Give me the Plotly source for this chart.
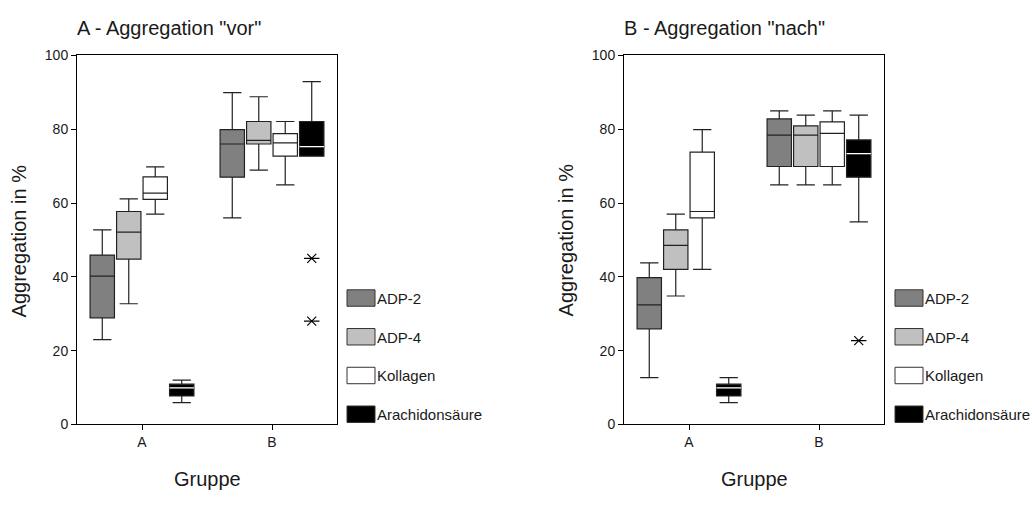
import plotly.graph_objects as go

W, H = 1032, 506

groups = ["A", "B"]
series = ["ADP-2", "ADP-4", "Kollagen", "Arachidonsäure"]
fills = ["#808080", "#c0c0c0", "#ffffff", "#000000"]

# Panel A - "vor": one list per series, values for groups [A, B]
vor_lower = [[23.0, 56.0], [32.7, 68.9], [57.0, 64.9], [5.9, 72.7]]
vor_q1 = [[28.9, 67.0], [44.8, 76.0], [61.0, 72.7], [7.7, 72.7]]
vor_median = [[40.2, 76.0], [52.1, 77.0], [62.7, 76.3], [9.9, 75.3]]
vor_q3 = [[45.9, 79.9], [57.7, 82.1], [67.1, 78.8], [10.9, 82.1]]
vor_upper = [[52.7, 89.9], [61.1, 88.8], [69.8, 82.1], [12.0, 92.9]]
vor_outlier_group = ["B", "B"]
vor_outlier_values = [45.0, 28.0]

# Panel B - "nach"
nach_lower = [[12.7, 64.9], [34.8, 64.9], [42.0, 64.9], [5.9, 54.9]]
nach_q1 = [[25.9, 69.9], [42.0, 69.9], [56.0, 69.9], [7.7, 67.0]]
nach_median = [[32.4, 78.4], [48.5, 78.4], [57.7, 78.9], [9.9, 73.4]]
nach_q3 = [[39.8, 82.8], [52.7, 80.9], [73.8, 82.0], [10.9, 77.1]]
nach_upper = [[43.8, 85.0], [57.0, 83.8], [79.9, 85.0], [12.7, 83.8]]
nach_outlier_group = ["B"]
nach_outlier_values = [22.7]

y_ticks = [0, 20, 40, 60, 80, 100]

FONT = "Liberation Sans, Arial, sans-serif"
TXT = "#1a1a1a"

panels = [
    dict(xa="x", ya="y", lower=vor_lower, q1=vor_q1, med=vor_median, q3=vor_q3,
         upper=vor_upper, og=vor_outlier_group, ov=vor_outlier_values),
    dict(xa="x2", ya="y2", lower=nach_lower, q1=nach_q1, med=nach_median, q3=nach_q3,
         upper=nach_upper, og=nach_outlier_group, ov=nach_outlier_values),
]

fig = go.Figure()
last = len(series) - 1
for p in panels:
    for i, name in enumerate(series):
        fig.add_trace(go.Box(
            name=name, x=groups,
            q1=p["q1"][i], median=p["med"][i], q3=p["q3"][i],
            lowerfence=p["lower"][i], upperfence=p["upper"][i],
            fillcolor=fills[i], line=dict(color="#222222", width=1.2),
            whiskerwidth=0.75, offsetgroup=str(i), alignmentgroup="g",
            boxpoints=False,
            xaxis=p["xa"], yaxis=p["ya"], showlegend=False, hoverinfo="skip"))
    # white median line for the black (Arachidonsäure) boxes
    fig.add_trace(go.Box(
        name=series[last] + " median", x=groups,
        q1=p["med"][last], median=p["med"][last], q3=p["med"][last],
        lowerfence=p["med"][last], upperfence=p["med"][last],
        fillcolor="rgba(0,0,0,0)", line=dict(color="white", width=1.3),
        whiskerwidth=0, offsetgroup=str(last), alignmentgroup="g", boxpoints=False,
        xaxis=p["xa"], yaxis=p["ya"], showlegend=False, hoverinfo="skip"))
    # extreme values of Arachidonsäure, drawn as asterisks (X + horizontal bar)
    for sym, sz in [("x-thin-open", 9), ("line-ew-open", 11)]:
        fig.add_trace(go.Box(
            name=series[last] + " extremes", x=p["og"], y=p["ov"],
            boxpoints="all", jitter=0, pointpos=0,
            fillcolor="rgba(0,0,0,0)", line=dict(color="rgba(0,0,0,0)", width=0),
            whiskerwidth=0, offsetgroup=str(last), alignmentgroup="g",
            marker=dict(symbol=sym, size=sz, color="black",
                        line=dict(width=1.2, color="black")),
            xaxis=p["xa"], yaxis=p["ya"], showlegend=False, hoverinfo="skip"))

def px_x(v):
    return v / W

def px_y(v):
    return 1 - v / H

x_dom1 = [px_x(77), px_x(337)]
x_dom2 = [px_x(624), px_x(884)]
y_dom = [px_y(430), px_y(49)]

axis_common = dict(showline=True, linecolor="black", linewidth=1, mirror=True,
                   ticks="outside", ticklen=5, tickcolor="black", showgrid=False,
                   zeroline=False, tickfont=dict(family=FONT, size=14, color=TXT))

fig.update_layout(
    width=W, height=H, margin=dict(l=0, r=0, t=0, b=0),
    paper_bgcolor="white", plot_bgcolor="white",
    boxmode="group", boxgap=0.185, boxgroupgap=0.08,
    showlegend=False,
    font=dict(family=FONT, color=TXT),
    xaxis=dict(domain=x_dom1, anchor="y", type="category", range=[-0.5, 1.5],
               categoryorder="array", categoryarray=groups, **axis_common),
    yaxis=dict(domain=y_dom, anchor="x", range=[0, 100], tickvals=y_ticks, **axis_common),
    xaxis2=dict(domain=x_dom2, anchor="y2", type="category", range=[-0.5, 1.5],
                categoryorder="array", categoryarray=groups, **axis_common),
    yaxis2=dict(domain=y_dom, anchor="x2", range=[0, 100], tickvals=y_ticks, **axis_common),
)

annotations = []
titles = ['A - Aggregation "vor"', 'B - Aggregation "nach"']
for k, (xd, ttl) in enumerate([(x_dom1, titles[0]), (x_dom2, titles[1])]):
    annotations.append(dict(text=ttl, x=xd[0] - px_x(2), y=px_y(21), xref="paper", yref="paper",
                            xanchor="left", yanchor="middle", showarrow=False,
                            font=dict(family=FONT, size=20, color=TXT)))
    annotations.append(dict(text="Aggregation in %", x=xd[0] - px_x(58), y=px_y(240),
                            xref="paper", yref="paper", xanchor="center", yanchor="middle",
                            textangle=-90, showarrow=False,
                            font=dict(family=FONT, size=20, color=TXT)))
    annotations.append(dict(text="Gruppe", x=(xd[0] + xd[1]) / 2, y=px_y(486),
                            xref="paper", yref="paper", xanchor="center", yanchor="middle",
                            showarrow=False, font=dict(family=FONT, size=20, color=TXT)))

shapes = []
legend_left = [347, 895]
legend_tops = [291, 331, 371, 411]
for lx in legend_left:
    for i, name in enumerate(series):
        top = legend_tops[i]
        shapes.append(dict(type="rect", xref="paper", yref="paper",
                           x0=px_x(lx), x1=px_x(lx + 28), y0=px_y(top + 17), y1=px_y(top),
                           fillcolor=fills[i], line=dict(color="#333333", width=1)))
        annotations.append(dict(text=name, x=px_x(lx + 28), y=px_y(top + 9),
                                xref="paper", yref="paper", xanchor="left", yanchor="middle",
                                showarrow=False, font=dict(family=FONT, size=15, color=TXT)))

fig.update_layout(annotations=annotations, shapes=shapes)
fig.write_html("out.html")
